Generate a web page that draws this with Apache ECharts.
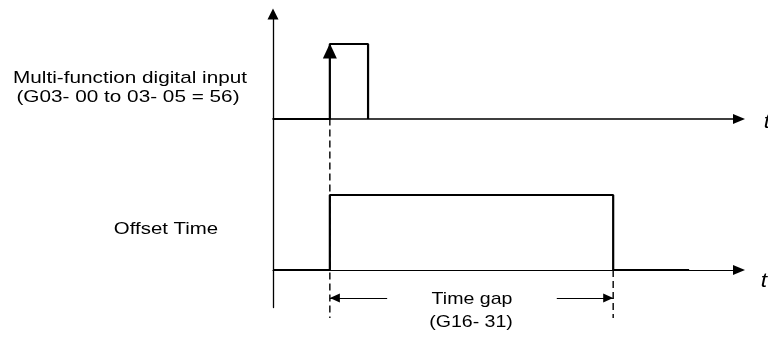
<!DOCTYPE html>
<html>
<head>
<meta charset="utf-8">
<script src="https://cdn.jsdelivr.net/npm/echarts@6/dist/echarts.min.js"></script>
<style>html,body{margin:0;padding:0;background:#fff}#c{width:768px;height:337px}</style>
</head>
<body>
<div id="c"></div>
<script>
// ---- data (time in arbitrary units, levels 0 = low, 1 = high) ----
const diTime = [0, 12.2, 12.2, 20.4, 20.4];
const diLevel = [0, 0, 1, 1, 0];
const offTime = [0, 12.2, 12.2, 73.0, 73.0, 89.3];
const offLevel = [0, 0, 1, 1, 0, 0];
const edgeOn = 12.2;     // input rising edge
const edgeOff = 73.0;    // end of offset time
const dashOnLevels = [2.02, -0.64];
const dashOffLevels = [0, -0.64];
const gapArrowLeftEnd = 24.5;
const gapArrowRightStart = 60.9;
const gapLevel = -0.373;
const timeMax = 100;
const labelDI = ['Multi-function digital input', '(G03- 00 to 03- 05 = 56)'];
const labelOffset = 'Offset Time';
const labelGap = ['Time gap', '(G16- 31)'];
const axisName = 't';

const pair = (xs, ys) => xs.map((x, i) => [x, ys[i]]);
const FONT = '"Liberation Sans", Arial, sans-serif';
const chart = echarts.init(document.getElementById('c'), null, {renderer: 'canvas'});

function txt(text, x, y, size, sx, italic) {
  return {
    type: 'text', x: x, y: y, scaleX: sx, silent: true,
    style: {
      text: text, fill: '#000', textAlign: 'center', textVerticalAlign: 'middle',
      font: (italic ? 'italic ' : '') + size + 'px ' + FONT
    }
  };
}
function dashSeries(xv, levels) {
  return {
    type: 'line', xAxisIndex: 1, yAxisIndex: 1, data: levels.map(l => [xv, l]),
    showSymbol: false, symbol: 'none', clip: false, silent: true, z: 3,
    lineStyle: {color: '#000', width: 1.4, type: [7, 4]}
  };
}

const option = {
  animation: false,
  backgroundColor: '#fff',
  grid: [
    {left: 273, width: 466, top: 14, height: 105},
    {left: 273, width: 466, top: 118.5, height: 189}
  ],
  xAxis: [
    {gridIndex: 0, type: 'value', min: 0, max: timeMax,
     axisLine: {show: true, onZero: true, symbol: ['none', 'triangle'], symbolSize: [10, 12],
                lineStyle: {color: '#000', width: 1.6}},
     axisTick: {show: false}, axisLabel: {show: false}, splitLine: {show: false}},
    {gridIndex: 1, type: 'value', min: 0, max: timeMax,
     axisLine: {show: true, onZero: true, symbol: ['none', 'triangle'], symbolSize: [10, 12],
                lineStyle: {color: '#000', width: 1.2}},
     axisTick: {show: false}, axisLabel: {show: false}, splitLine: {show: false}}
  ],
  yAxis: [
    {gridIndex: 0, type: 'value', min: 0, max: 1.4,
     axisLine: {show: true, onZero: false, symbol: ['none', 'triangle'], symbolSize: [11, 11],
                lineStyle: {color: '#000', width: 1.3}},
     axisTick: {show: false}, axisLabel: {show: false}, splitLine: {show: false}},
    {gridIndex: 1, type: 'value', min: -0.5, max: 2.02,
     axisLine: {show: true, onZero: false, lineStyle: {color: '#000', width: 1.3}},
     axisTick: {show: false}, axisLabel: {show: false}, splitLine: {show: false}}
  ],
  series: [
    {
      type: 'line', xAxisIndex: 0, yAxisIndex: 0, data: pair(diTime, diLevel),
      showSymbol: false, symbol: 'none', clip: false,
      lineStyle: {color: '#000', width: 2.2}, z: 5,
      markPoint: {
        silent: true, symbol: 'triangle', symbolSize: [14, 15], symbolOffset: [0, 7],
        itemStyle: {color: '#000'}, label: {show: false},
        data: [{coord: [edgeOn, 1]}]
      }
    },
    {
      type: 'line', xAxisIndex: 1, yAxisIndex: 1, data: pair(offTime, offLevel),
      showSymbol: false, symbol: 'none', clip: false,
      lineStyle: {color: '#000', width: 2.2}, z: 5,
      markLine: {
        silent: true, animation: false, label: {show: false},
        symbol: ['none', 'triangle'], symbolSize: [9, 10], symbolOffset: [0, [0, 5]],
        lineStyle: {type: 'solid', width: 1, color: '#000'},
        data: [
          [{coord: [gapArrowLeftEnd, gapLevel]}, {coord: [edgeOn, gapLevel]}],
          [{coord: [gapArrowRightStart, gapLevel]}, {coord: [edgeOff, gapLevel]}]
        ]
      }
    },
    dashSeries(edgeOn, dashOnLevels),
    dashSeries(edgeOff, dashOffLevels)
  ],
  graphic: [
    txt(labelDI[0], 130, 78, 17, 1.22),
    txt(labelDI[1], 128, 97, 17, 1.22),
    txt(labelOffset, 166, 229, 17, 1.2),
    txt(labelGap[0], 472, 299, 17, 1.15),
    txt(labelGap[1], 471, 322, 17, 1.15),
    txt(axisName, 767, 122, 20, 1.15, true),
    txt(axisName, 764, 281, 20, 1.15, true)
  ]
};
chart.setOption(option);
</script>
</body>
</html>
